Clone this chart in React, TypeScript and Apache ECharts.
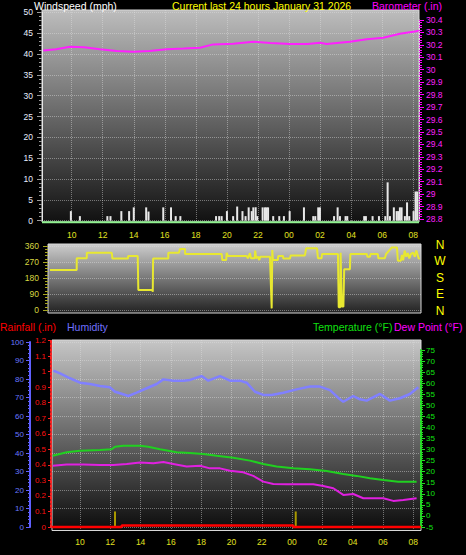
import React, { useEffect, useRef } from 'react';
import * as echarts from 'echarts';

// hour values: 24 = midnight, 32 = 08:00 next day
const hourTicks = [10, 12, 14, 16, 18, 20, 22, 24, 26, 28, 30, 32];

const baroTimes = [8.17, 9.0, 9.89, 10.8, 11.82, 12.9, 13.97, 15.0, 16.12, 17.2, 18.26, 19.12, 20.41, 21.7, 22.8, 24.06, 25.2, 25.99, 26.42, 27.92, 29.0, 30.07, 31.14, 32.21, 32.35];
const baroValues = [30.155, 30.165, 30.185, 30.18, 30.164, 30.15, 30.145, 30.15, 30.164, 30.17, 30.177, 30.204, 30.21, 30.225, 30.215, 30.207, 30.207, 30.217, 30.207, 30.225, 30.245, 30.258, 30.29, 30.31, 30.315];

const windTimes = [9.95, 10.53, 12.3, 12.5, 13.2, 13.7, 14.0, 14.8, 14.95, 15.9, 16.4, 16.7, 17.0, 19.3, 19.5, 19.66, 20.0, 20.4, 20.66, 21.0, 21.2, 21.4, 21.6, 21.7, 21.85, 21.95, 22.3, 22.45, 22.55, 22.65, 22.98, 23.37, 23.67, 24.04, 24.96, 25.56, 25.69, 25.88, 25.99, 26.9, 27.13, 27.28, 27.64, 27.75, 28.84, 28.95, 29.38, 29.79, 30.2, 30.35, 30.5, 30.75, 30.93, 31.03, 31.14, 31.25, 31.46, 31.6, 31.74, 32.02, 32.15, 32.25];
const windValues = [2.3, 1.1, 1.1, 1.1, 2.3, 2.3, 3.2, 3.2, 2.2, 3.2, 3.2, 1.1, 1.1, 1.1, 1.1, 1.1, 2.3, 1.1, 3.4, 2.3, 1.1, 3.2, 2.3, 3.2, 3.2, 1.1, 3.2, 3.2, 3.2, 3.2, 1.1, 1.1, 1.1, 2.3, 3.2, 1.1, 1.1, 3.2, 3.2, 1.1, 3.2, 1.1, 1.1, 1.1, 1.1, 1.1, 1.1, 1.1, 1.1, 9.2, 1.1, 3.2, 2.3, 2.3, 3.2, 3.2, 1.1, 4.4, 1.1, 2.3, 7.0, 7.0];
const windAvgTimes = [8.09, 32.37];
const windAvgValues = [0, 0];

const dirTimes = [8.6, 10.32, 10.32, 10.97, 10.97, 12.58, 12.62, 13.63, 13.63, 14.25, 14.29, 15.2, 15.22, 15.24, 16.22, 16.22, 16.9, 16.97, 17.3, 17.3, 19.66, 19.7, 19.95, 19.98, 20.06, 21.27, 21.35, 21.48, 21.55, 21.78, 21.82, 21.88, 22.0, 22.08, 22.15, 22.77, 22.88, 22.92, 22.96, 23.28, 23.3, 23.61, 23.63, 24.06, 24.1, 25.02, 25.1, 25.8, 25.86, 26.1, 26.12, 27.15, 27.2, 27.3, 27.32, 27.36, 27.4, 27.5, 27.55, 27.92, 27.95, 29.01, 29.05, 29.21, 29.25, 29.72, 29.75, 30.17, 30.25, 30.4, 30.62, 30.95, 31.01, 31.2, 31.27, 31.35, 31.45, 31.55, 31.65, 31.75, 31.85, 32.0, 32.1, 32.2, 32.35, 32.43];
const dirValues = [225, 225, 291, 291, 322, 322, 289, 289, 304, 304, 112, 112, 103, 289, 289, 322, 322, 343, 343, 315, 315, 281, 281, 322, 304, 304, 291, 320, 291, 291, 334, 291, 300, 281, 300, 300, 9, 337, 281, 281, 304, 304, 289, 289, 307, 307, 347, 347, 291, 291, 315, 315, 15, 15, 322, 322, 19, 19, 229, 229, 315, 315, 300, 300, 315, 315, 291, 291, 315, 330, 352, 352, 277, 277, 310, 280, 334, 300, 320, 290, 315, 322, 300, 334, 290, 289];

const humTimes = [8.24, 8.68, 9.34, 10.0, 10.66, 11.32, 11.98, 12.31, 12.64, 13.19, 13.74, 14.4, 15.06, 15.5, 16.16, 16.82, 17.26, 18.03, 18.47, 19.24, 19.9, 20.56, 21.0, 21.55, 22.1, 22.65, 23.42, 24.3, 25.18, 25.84, 26.5, 27.16, 27.38, 28.04, 28.48, 28.92, 29.8, 30.46, 31.12, 31.78, 32.33];
const humValues = [84.5, 83, 80.4, 78, 77.3, 76.2, 75.5, 73.1, 72.3, 70.8, 72.6, 75, 77.3, 79.8, 79.1, 79.1, 79.5, 81.6, 79.1, 81.6, 79.1, 79.1, 78, 73.1, 71.4, 71.4, 72.6, 74.4, 75.9, 75.9, 74, 69, 67.7, 70.8, 69, 68.3, 71.9, 68.3, 69.6, 71.9, 75.5];

const tempTimes = [8.2, 9.12, 10.0, 11.32, 12.09, 12.31, 12.86, 13.96, 14.51, 15.28, 16.38, 17.26, 18.14, 19.02, 20.12, 21.22, 22.1, 22.98, 24.08, 25.18, 26.28, 27.38, 28.26, 29.14, 30.02, 31.01, 32.22];
const tempValues = [27.2, 28.8, 29.5, 29.8, 30.1, 31.3, 31.7, 31.7, 31.3, 30.1, 28.8, 28.4, 28, 27.2, 26.3, 25, 23.5, 22.3, 21.5, 21.1, 20.3, 19, 18.1, 17, 16.2, 15.5, 15.5];

const dewTimes = [8.2, 9.12, 10.22, 11.32, 12.2, 13.08, 13.96, 14.84, 15.5, 16.16, 17.04, 17.92, 18.58, 19.24, 19.9, 20.78, 21.44, 22.1, 22.76, 23.64, 24.52, 25.4, 26.06, 26.72, 27.38, 28.04, 28.7, 29.36, 30.02, 30.68, 31.34, 32.22];
const dewValues = [22.7, 23.3, 23.3, 23, 23, 23.5, 24.2, 23.8, 24.4, 23.5, 22.3, 22.7, 21.5, 21.5, 20.4, 19.7, 18.1, 15.5, 14.4, 14.3, 14.3, 14.3, 13.5, 12.5, 9.5, 9.9, 8, 8, 8, 6.8, 7.2, 8];

const rainTimes = [8.15, 12.75, 12.75, 24.08, 24.08, 32.5];
const rainValues = [0, 0, 0.01, 0.01, 0, 0];
const rainRateTimes = [12.31, 24.24];
const rainRateValues = [0.1, 0.1];

const pair = (t: number[], v: number[]) => t.map((x, i) => [x, v[i]]);
const hourFmt = (v: number) => String(Math.round(v) % 24).padStart(2, '0');
const trim = (v: number) => String(parseFloat(v.toFixed(2)));
const FONT = 'Liberation Sans, Arial, sans-serif';

const grad = (a: string, b: string) =>
  new echarts.graphic.LinearGradient(0, 0, 0, 1, [
    { offset: 0, color: a },
    { offset: 1, color: b },
  ]);

const dotted = { show: true, lineStyle: { color: 'rgba(225,225,225,0.45)', type: 'dotted' as const, width: 1 } };

export default function App() {
  const ref = useRef<HTMLDivElement>(null);
  useEffect(() => {
    if (!ref.current) return;
    const chart = echarts.init(ref.current, null, { renderer: 'svg' });
    const topX = { min: 8.09, max: 32.37 };
    const midX = { min: 8.47, max: 32.5 };
    const botX = { min: 8.15, max: 32.51 };
    const hidden = (gi: number, r: { min: number; max: number }) => ({ type: 'value' as const, gridIndex: gi, min: r.min, max: r.max, show: false });
    const option: any = {
      animation: false,
      backgroundColor: '#000000',
      grid: [
        { left: 42, width: 377, top: 10, height: 212, show: true, backgroundColor: grad('#bdbdbd', '#111111'), borderColor: '#d8d8d8', borderWidth: 1 },
        { left: 42, width: 377, top: 12.3, height: 208.4 },
        { left: 42, width: 377, top: 20, height: 199 },
        { left: 48, width: 373, top: 244, height: 69, show: true, backgroundColor: grad('#cdcdcd', '#222222'), borderColor: '#d8d8d8', borderWidth: 1 },
        { left: 48, width: 373, top: 246, height: 64 },
        { left: 52, width: 369, top: 340, height: 190.5, show: true, backgroundColor: grad('#c6c6c6', '#0b0b0b'), borderColor: '#d8d8d8', borderWidth: 1 },
        { left: 52, width: 369, top: 342, height: 185 },
        { left: 52, width: 369, top: 340.5, height: 186.5 },
        { left: 52, width: 369, top: 350, height: 177 },
      ],
      xAxis: [
        {
          type: 'value', gridIndex: 0, min: topX.min, max: topX.max,
          axisLine: { show: false },
          axisTick: { show: false, customValues: hourTicks },
          axisLabel: { customValues: hourTicks, formatter: hourFmt, color: '#e0e020', fontSize: 8.5, fontFamily: FONT, margin: 8 },
          splitLine: dotted,
        },
        hidden(1, topX),
        hidden(2, topX),
        hidden(3, midX),
        hidden(4, midX),
        {
          type: 'value', gridIndex: 5, min: botX.min, max: botX.max,
          axisLine: { show: false },
          axisTick: { show: false, customValues: hourTicks },
          axisLabel: { customValues: hourTicks, formatter: hourFmt, color: '#e0e020', fontSize: 8.5, fontFamily: FONT, margin: 7 },
          splitLine: dotted,
        },
        hidden(6, botX),
        hidden(7, botX),
        hidden(8, botX),
      ],
      yAxis: [
        { type: 'value', gridIndex: 0, min: 0, max: 1, show: false },
        {
          type: 'value', gridIndex: 1, position: 'left', min: 0, max: 50, interval: 5,
          axisLine: { show: true, lineStyle: { color: '#e8e8e8' } },
          axisTick: { show: true, length: 5, lineStyle: { color: '#9a9a9a' } },
          minorTick: { show: true, splitNumber: 5, length: 3, lineStyle: { color: '#9a9a9a' } },
          axisLabel: { color: '#e8eeff', fontSize: 8.5, fontFamily: FONT, margin: 9 },
          splitLine: dotted,
        },
        {
          type: 'value', gridIndex: 2, position: 'right', min: 28.8, max: 30.4, interval: 0.1,
          axisLine: { show: true, lineStyle: { color: '#e0e0e0' } },
          axisTick: { show: true, length: 5, lineStyle: { color: '#ff00ff' } },
          minorTick: { show: true, splitNumber: 5, length: 3, lineStyle: { color: '#ff00ff' } },
          axisLabel: { color: '#ff20ff', fontSize: 8.5, fontFamily: FONT, margin: 7, formatter: trim },
          splitLine: { show: false },
        },
        { type: 'value', gridIndex: 3, min: 0, max: 1, show: false },
        {
          type: 'value', gridIndex: 4, position: 'left', min: 0, max: 360, interval: 90,
          axisLine: { show: false },
          axisTick: { show: true, length: 5, lineStyle: { color: '#a8a820' } },
          minorTick: { show: true, splitNumber: 5, length: 3, lineStyle: { color: '#a8a820' } },
          axisLabel: { color: '#d8d840', fontSize: 8.5, fontFamily: FONT, margin: 9 },
          splitLine: dotted,
        },
        { type: 'value', gridIndex: 5, min: 0, max: 1, show: false },
        {
          type: 'value', gridIndex: 6, position: 'left', offset: 22, min: 0, max: 100, interval: 10,
          axisLine: { show: true, lineStyle: { color: '#6060ff', width: 2 } },
          axisTick: { show: true, length: 4, lineStyle: { color: '#6060ff' } },
          minorTick: { show: true, splitNumber: 5, length: 2, lineStyle: { color: '#6060ff' } },
          axisLabel: { color: '#6878ff', fontSize: 8, fontFamily: FONT, margin: 6 },
          splitLine: dotted,
        },
        {
          type: 'value', gridIndex: 7, position: 'left', offset: 1, min: 0, max: 1.2, interval: 0.1,
          axisLine: { show: true, lineStyle: { color: '#ff2020', type: [2, 2], width: 2 } },
          axisTick: { show: true, length: 3, lineStyle: { color: '#ff2020' } },
          axisLabel: { color: '#ff1010', fontSize: 8, fontFamily: FONT, margin: 5, formatter: trim },
          splitLine: { show: false },
        },
        {
          type: 'value', gridIndex: 8, position: 'right', min: -5, max: 75, interval: 5,
          axisLine: { show: true, lineStyle: { color: '#20e020', type: [2, 2], width: 2 } },
          axisTick: { show: true, length: 4, lineStyle: { color: '#20e020' } },
          minorTick: { show: true, splitNumber: 5, length: 2, lineStyle: { color: '#20e020' } },
          axisLabel: { color: '#10e010', fontSize: 8, fontFamily: FONT, margin: 5 },
          splitLine: { show: false },
        },
      ],
      series: [
        { type: 'bar', xAxisIndex: 1, yAxisIndex: 1, data: pair(windTimes, windValues), barWidth: 2, itemStyle: { color: '#e8e8e8' } },
        { type: 'line', xAxisIndex: 1, yAxisIndex: 1, data: pair(windAvgTimes, windAvgValues.map((v) => v - 0.35)), symbol: 'none', clip: false, lineStyle: { color: '#90f090', width: 2 } },
        { type: 'line', xAxisIndex: 2, yAxisIndex: 2, data: pair(baroTimes, baroValues), symbol: 'none', lineStyle: { color: '#ff20ff', width: 2 } },
        { type: 'line', xAxisIndex: 4, yAxisIndex: 4, data: pair(dirTimes, dirValues), symbol: 'none', clip: false, lineStyle: { color: '#e8e830', width: 2 } },
        { type: 'line', xAxisIndex: 6, yAxisIndex: 6, data: pair(humTimes, humValues), symbol: 'none', lineStyle: { color: '#8080ff', width: 2.5 } },
        { type: 'bar', xAxisIndex: 7, yAxisIndex: 7, data: pair(rainRateTimes, rainRateValues), barWidth: 2, itemStyle: { color: '#a89800' } },
        { type: 'line', xAxisIndex: 7, yAxisIndex: 7, data: pair(rainTimes, rainValues), symbol: 'none', clip: false, lineStyle: { color: '#ff0000', width: 2.5 } },
        { type: 'line', xAxisIndex: 8, yAxisIndex: 8, data: pair(tempTimes, tempValues), symbol: 'none', lineStyle: { color: '#20d020', width: 2 } },
        { type: 'line', xAxisIndex: 8, yAxisIndex: 8, data: pair(dewTimes, dewValues), symbol: 'none', lineStyle: { color: '#e020e0', width: 2 } },
      ],
      graphic: [
        { type: 'text', x: 34, y: 0, style: { text: 'Windspeed (mph)', fill: '#ffffff', fontSize: 10.5, fontFamily: FONT, verticalAlign: 'top' } },
        { type: 'text', x: 172, y: 0, style: { text: 'Current last 24 hours January 31 2026', fill: '#ffff00', fontSize: 10.5, fontFamily: FONT, verticalAlign: 'top' } },
        { type: 'text', x: 372, y: 0, style: { text: 'Barometer (.in)', fill: '#ff00ff', fontSize: 10.5, fontFamily: FONT, verticalAlign: 'top' } },
        { type: 'text', x: 0, y: 326.5, style: { text: 'Rainfall (.in)', fill: '#ff0000', fontSize: 10.5, fontFamily: FONT, verticalAlign: 'middle' } },
        { type: 'text', x: 67, y: 326.5, style: { text: 'Humidity', fill: '#7070ff', fontSize: 10.5, fontFamily: FONT, verticalAlign: 'middle' } },
        { type: 'text', x: 313, y: 326.5, style: { text: 'Temperature (°F)', fill: '#10e010', fontSize: 10.5, fontFamily: FONT, verticalAlign: 'middle' } },
        { type: 'text', x: 394, y: 326.5, style: { text: 'Dew Point (°F)', fill: '#ff00ff', fontSize: 10.5, fontFamily: FONT, verticalAlign: 'middle' } },
        ...['N', 'W', 'S', 'E', 'N'].map((t, i) => ({
          type: 'text', x: 440, y: [245, 260.5, 277.5, 294, 310.5][i],
          style: { text: t, fill: '#ffff00', fontSize: 12, fontFamily: FONT, align: 'center', verticalAlign: 'middle' },
        })),
      ],
    };
    chart.setOption(option);
    return () => chart.dispose();
  }, []);
  return <div ref={ref} style={{ position: 'fixed', left: 0, top: 0, width: 466, height: 555, background: '#000' }} />;
}
